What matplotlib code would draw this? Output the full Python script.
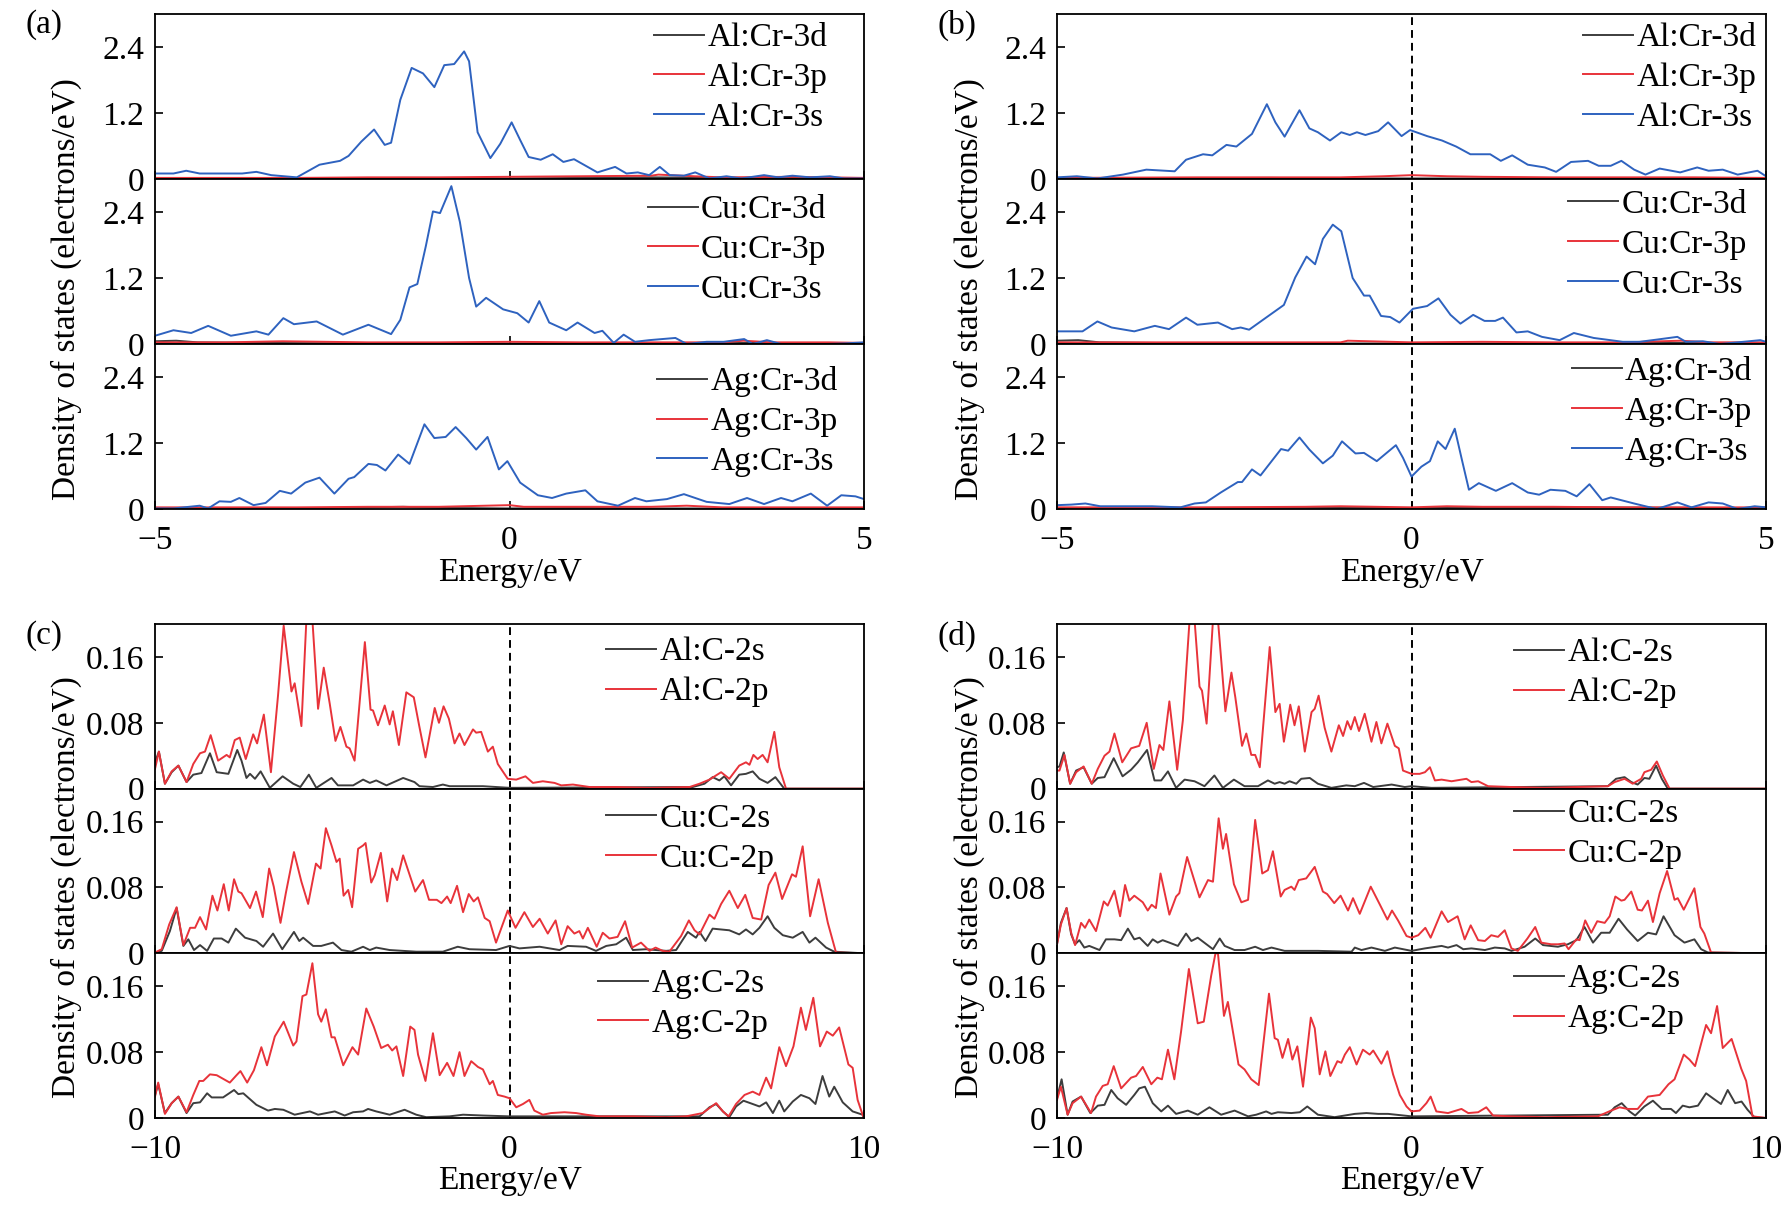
import matplotlib
matplotlib.use("Agg")
import matplotlib.pyplot as plt

plt.rcParams['font.family'] = ['Liberation Serif', 'DejaVu Serif']
plt.rcParams['mathtext.fontset'] = 'stix'

BLACK = '#3d3d3d'
RED = '#e8333a'
BLUE = '#2e62bf'

# ---------------- panel (a) ----------------
a_al_3s_e = [-5, -4.74, -4.56, -4.37, -3.77, -3.57, -3.36, -3.0, -2.68, -2.39, -2.27, -2.09, -1.91, -1.76, -1.67,
             -1.54, -1.38, -1.22, -1.06, -0.92, -0.78, -0.64, -0.57, -0.45, -0.27, -0.13, 0.03, 0.15, 0.27, 0.44,
             0.61, 0.76, 0.91, 1.24, 1.49, 1.65, 1.81, 1.97, 2.12, 2.26, 2.46, 2.62, 2.82, 3.06, 3.27, 3.59, 3.79,
             3.99, 4.24, 4.52, 4.72, 5.0]
a_al_3s = [0.10, 0.10, 0.15, 0.10, 0.10, 0.13, 0.07, 0.03, 0.26, 0.33, 0.42, 0.68, 0.90, 0.62, 0.66,
           1.44, 2.02, 1.92, 1.67, 2.07, 2.09, 2.32, 2.14, 0.85, 0.38, 0.64, 1.03, 0.71, 0.40, 0.35,
           0.45, 0.31, 0.36, 0.12, 0.22, 0.10, 0.12, 0.07, 0.22, 0.07, 0.06, 0.12, 0.01, 0.05, 0.01, 0.07, 0.03,
           0.06, 0.03, 0.05, 0.01, 0.01]
a_al_3d_e = [-5, -3, -1.5, -0.8, 0, 1, 2, 3, 4, 5]
a_al_3d = [0.01, 0.01, 0.02, 0.02, 0.01, 0.02, 0.03, 0.02, 0.02, 0.01]
a_al_3p_e = [-5, -4, -3, -2, -1, 0, 1, 2, 2.1, 2.6, 3, 4, 5]
a_al_3p = [0.02, 0.02, 0.02, 0.03, 0.03, 0.04, 0.05, 0.06, 0.08, 0.05, 0.03, 0.04, 0.02]

a_cu_3s_e = [-5, -4.74, -4.49, -4.25, -3.93, -3.57, -3.40, -3.19, -3.04, -2.72, -2.35, -1.99, -1.67, -1.54, -1.41,
             -1.30, -1.18, -1.08, -0.98, -0.82, -0.70, -0.57, -0.47, -0.33, -0.09, 0.11, 0.27, 0.42, 0.56, 0.80,
             0.96, 1.20, 1.31, 1.47, 1.61, 1.77, 1.97, 2.34, 2.50, 2.78, 3.02, 3.31, 3.43, 3.63, 3.83, 4.16, 4.48,
             4.72, 5.0]
a_cu_3s = [0.15, 0.25, 0.20, 0.33, 0.15, 0.23, 0.17, 0.47, 0.36, 0.41, 0.17, 0.35, 0.18, 0.44, 1.03,
           1.09, 1.78, 2.41, 2.38, 2.87, 2.22, 1.20, 0.68, 0.84, 0.63, 0.56, 0.39, 0.78, 0.39, 0.25,
           0.39, 0.20, 0.24, 0.02, 0.17, 0.04, 0.07, 0.11, 0.00, 0.04, 0.04, 0.09, 0.00, 0.07, 0.00, 0.00, 0.00,
           0.01, 0.03]
a_cu_3d_e = [-5, -4.7, -4.4, -3.5, -2, 0, 2, 3.5, 4, 5]
a_cu_3d = [0.05, 0.06, 0.03, 0.02, 0.01, 0.01, 0.01, 0.02, 0.01, 0.01]
a_cu_3p_e = [-5, -4, -3.2, -2, -1, 0, 1, 2, 3, 3.3, 3.7, 4.5, 5]
a_cu_3p = [0.03, 0.03, 0.05, 0.03, 0.03, 0.04, 0.03, 0.03, 0.03, 0.06, 0.03, 0.03, 0.02]

a_ag_3s_e = [-5, -4.74, -4.37, -4.25, -4.09, -3.93, -3.81, -3.61, -3.44, -3.24, -3.08, -2.88, -2.68, -2.47, -2.27,
             -2.19, -1.99, -1.87, -1.75, -1.57, -1.41, -1.20, -1.06, -0.90, -0.76, -0.61, -0.47, -0.31, -0.15,
             -0.03, 0.15, 0.40, 0.60, 0.80, 1.07, 1.24, 1.53, 1.77, 1.93, 2.22, 2.46, 2.78, 3.10, 3.35, 3.59,
             3.83, 3.99, 4.25, 4.48, 4.68, 4.88, 5.0]
a_ag_3s = [0.01, 0.01, 0.06, 0.01, 0.14, 0.13, 0.20, 0.07, 0.11, 0.33, 0.28, 0.48, 0.57, 0.28, 0.55,
           0.58, 0.82, 0.80, 0.70, 0.99, 0.82, 1.54, 1.29, 1.31, 1.49, 1.29, 1.08, 1.31, 0.72,
           0.87, 0.48, 0.25, 0.20, 0.28, 0.34, 0.14, 0.06, 0.20, 0.14, 0.18, 0.27, 0.13, 0.09, 0.20, 0.09,
           0.20, 0.14, 0.28, 0.06, 0.25, 0.23, 0.18]
a_ag_3d_e = [-5, -3, -1.5, -1, 0, 1, 2, 3, 4, 5]
a_ag_3d = [0.01, 0.01, 0.04, 0.02, 0.01, 0.02, 0.01, 0.01, 0.01, 0.01]
a_ag_3p_e = [-5, -3, -2, -1, 0, 0.2, 1, 2, 2.5, 3, 4, 5]
a_ag_3p = [0.03, 0.03, 0.04, 0.04, 0.07, 0.04, 0.04, 0.04, 0.06, 0.03, 0.03, 0.03]

# ---------------- panel (b) ----------------
b_al_3s_e = [-5, -4.72, -4.43, -4.07, -3.74, -3.34, -3.18, -2.94, -2.81, -2.61, -2.47, -2.25, -2.04, -1.92, -1.79,
             -1.58, -1.44, -1.32, -1.15, -0.99, -0.87, -0.77, -0.65, -0.47, -0.33, -0.14, -0.02, 0.22, 0.43, 0.63,
             0.83, 1.11, 1.26, 1.42, 1.64, 1.88, 2.04, 2.25, 2.49, 2.64, 2.81, 2.96, 3.14, 3.30, 3.50, 3.79, 4.03,
             4.19, 4.39, 4.60, 4.88, 5.0]
b_al_3s = [0.03, 0.05, 0.01, 0.08, 0.17, 0.14, 0.35, 0.45, 0.43, 0.62, 0.59, 0.82, 1.36, 1.03, 0.77,
           1.25, 0.92, 0.85, 0.70, 0.85, 0.80, 0.85, 0.80, 0.87, 1.03, 0.78, 0.89, 0.78, 0.70, 0.59,
           0.45, 0.45, 0.33, 0.43, 0.26, 0.21, 0.13, 0.31, 0.33, 0.24, 0.24, 0.33, 0.17, 0.08, 0.19, 0.12, 0.21,
           0.15, 0.17, 0.08, 0.15, 0.05]
b_al_3d_e = [-5, -2, -1, 0, 1, 2, 3, 5]
b_al_3d = [0.01, 0.02, 0.01, 0.01, 0.01, 0.01, 0.01, 0.01]
b_al_3p_e = [-5, -3, -1, -0.4, 0, 0.5, 1, 2, 3, 4, 5]
b_al_3p = [0.02, 0.03, 0.03, 0.05, 0.07, 0.05, 0.04, 0.03, 0.03, 0.03, 0.02]

b_cu_3s_e = [-5, -4.64, -4.43, -4.23, -3.91, -3.62, -3.42, -3.18, -3.02, -2.73, -2.53, -2.41, -2.29, -2.04, -1.80,
             -1.64, -1.48, -1.36, -1.25, -1.11, -0.99, -0.83, -0.67, -0.59, -0.43, -0.30, -0.17, 0.02, 0.22, 0.38,
             0.55, 0.69, 0.87, 1.03, 1.18, 1.29, 1.48, 1.64, 1.84, 2.09, 2.29, 2.57, 2.98, 3.22, 3.46, 3.75, 3.87,
             4.11, 4.35, 4.68, 4.92, 5.0]
b_cu_3s = [0.23, 0.23, 0.41, 0.30, 0.23, 0.33, 0.27, 0.48, 0.35, 0.39, 0.27, 0.30, 0.26, 0.49, 0.71,
           1.21, 1.59, 1.45, 1.91, 2.17, 2.05, 1.20, 0.88, 0.88, 0.51, 0.49, 0.39, 0.64, 0.69, 0.83,
           0.53, 0.37, 0.53, 0.42, 0.42, 0.48, 0.21, 0.23, 0.13, 0.07, 0.20, 0.11, 0.04, 0.04, 0.08, 0.13, 0.04,
           0.05, 0.00, 0.04, 0.07, 0.04]
b_cu_3d_e = [-5, -4.7, -4.4, -3, -1, 0, 2, 3.5, 4, 5]
b_cu_3d = [0.06, 0.07, 0.03, 0.01, 0.01, 0.01, 0.01, 0.02, 0.02, 0.02]
b_cu_3p_e = [-5, -3, -2, -1, -0.9, 0, 1, 2, 3, 3.8, 4.2, 5]
b_cu_3p = [0.03, 0.03, 0.03, 0.03, 0.06, 0.03, 0.04, 0.03, 0.03, 0.06, 0.03, 0.03]

b_ag_3s_e = [-5, -4.80, -4.60, -4.39, -4.07, -3.66, -3.26, -3.06, -2.90, -2.69, -2.45, -2.39, -2.25, -2.13, -1.84,
             -1.74, -1.58, -1.44, -1.25, -1.11, -0.98, -0.79, -0.67, -0.49, -0.36, -0.22, -0.12, 0.0, 0.14, 0.26,
             0.37, 0.48, 0.61, 0.71, 0.81, 0.95, 1.19, 1.42, 1.64, 1.80, 1.96, 2.17, 2.33, 2.51, 2.69, 2.81, 3.14,
             3.46, 3.75, 3.95, 4.19, 4.39, 4.60, 4.84, 5.0]
b_ag_3s = [0.07, 0.08, 0.10, 0.05, 0.05, 0.05, 0.03, 0.10, 0.12, 0.30, 0.49, 0.49, 0.72, 0.61, 1.09,
           1.06, 1.30, 1.08, 0.83, 0.97, 1.23, 1.01, 1.02, 0.87, 1.01, 1.16, 0.93, 0.59, 0.77, 0.87,
           1.23, 1.09, 1.46, 0.90, 0.35, 0.47, 0.33, 0.47, 0.30, 0.26, 0.35, 0.33, 0.23, 0.45, 0.16, 0.21, 0.10,
           0.00, 0.12, 0.03, 0.12, 0.10, 0.00, 0.05, 0.03]
b_ag_3d_e = [-5, -3, -1.5, 0, 1, 2.5, 4, 5]
b_ag_3d = [0.02, 0.02, 0.02, 0.02, 0.02, 0.03, 0.02, 0.01]
b_ag_3p_e = [-5, -3, -1.5, -1, 0, 0.5, 1, 2, 3, 4, 5]
b_ag_3p = [0.03, 0.03, 0.04, 0.05, 0.03, 0.05, 0.04, 0.04, 0.03, 0.03, 0.03]

# ---------------- panel (c) ----------------
c_al_2p_e = [-10, -9.89, -9.72, -9.53, -9.34, -9.11, -8.92, -8.73, -8.59, -8.43, -8.22, -7.98, -7.89, -7.75, -7.61,
             -7.44, -7.23, -7.12, -6.93, -6.73, -6.53, -6.37, -6.15, -6.06, -5.87, -5.73, -5.56, -5.40, -5.24,
             -5.07, -4.91, -4.77, -4.60, -4.51, -4.37, -4.08, -3.92, -3.85, -3.71, -3.52, -3.38, -3.29, -3.12,
             -2.91, -2.70, -2.55, -2.37, -2.11, -1.99, -1.86, -1.71, -1.55, -1.41, -1.27, -1.03, -0.94, -0.80,
             -0.61, -0.47, -0.33, -0.05, 0.19, 0.45, 0.66, 0.94, 1.27, 1.46, 1.79, 2.26, 3.01, 3.95, 5.08, 5.36,
             5.64, 5.97, 6.20, 6.48, 6.67, 6.77, 6.88, 7.00, 7.14, 7.28, 7.47, 7.61, 7.80, 10]
c_al_2p = [0.024, 0.045, 0.006, 0.021, 0.028, 0.008, 0.030, 0.043, 0.045, 0.065, 0.034, 0.041, 0.038, 0.059, 0.062,
           0.036, 0.066, 0.055, 0.090, 0.020, 0.113, 0.198, 0.118, 0.128, 0.076, 0.205, 0.205, 0.097, 0.147,
           0.103, 0.058, 0.075, 0.051, 0.049, 0.034, 0.178, 0.096, 0.095, 0.077, 0.101, 0.078, 0.094, 0.053,
           0.117, 0.111, 0.077, 0.038, 0.098, 0.080, 0.100, 0.085, 0.055, 0.067, 0.053, 0.072, 0.068, 0.069,
           0.045, 0.051, 0.030, 0.012, 0.011, 0.015, 0.007, 0.009, 0.007, 0.004, 0.005, 0.002, 0.002, 0.001, 0.002, 0.006,
           0.011, 0.020, 0.012, 0.028, 0.032, 0.029, 0.041, 0.036, 0.041, 0.032, 0.069, 0.026, 0.0, 0.0]
c_al_2s_e = [-10, -9.89, -9.72, -9.53, -9.34, -9.11, -8.92, -8.69, -8.45, -8.26, -7.93, -7.68, -7.56, -7.42, -7.32,
             -7.18, -7.02, -6.76, -6.40, -6.10, -5.90, -5.66, -5.45, -5.02, -4.84, -4.41, -4.13, -3.94, -3.76,
             -3.47, -3.00, -2.68, -2.54, -2.16, -1.88, -1.69, -0.75, 0, 5.17, 5.50, 5.73, 5.92, 6.06, 6.25, 6.48,
             6.67, 6.86, 7.05, 7.28, 7.50, 7.75, 10]
c_al_2s = [0.032, 0.045, 0.006, 0.020, 0.028, 0.008, 0.017, 0.019, 0.043, 0.020, 0.018, 0.047, 0.034, 0.013, 0.018,
           0.012, 0.021, 0.001, 0.015, 0.006, 0.002, 0.017, 0.001, 0.013, 0.004, 0.004, 0.011, 0.007, 0.010,
           0.004, 0.013, 0.008, 0.003, 0.002, 0.005, 0.003, 0.003, 0.001, 0.002, 0.006, 0.014, 0.010, 0.015, 0.004, 0.017,
           0.018, 0.021, 0.012, 0.007, 0.014, 0.0, 0.0]

c_cu_2p_e = [-10, -9.81, -9.60, -9.39, -9.20, -9.01, -8.87, -8.73, -8.56, -8.38, -8.24, -8.06, -7.92, -7.77, -7.65,
             -7.56, -7.32, -7.15, -6.96, -6.78, -6.65, -6.46, -6.31, -6.08, -5.87, -5.68, -5.46, -5.33, -5.18,
             -5.02, -4.88, -4.79, -4.68, -4.55, -4.44, -4.27, -4.13, -4.06, -3.90, -3.80, -3.63, -3.45, -3.31,
             -3.17, -3.00, -2.66, -2.44, -2.27, -2.05, -1.92, -1.76, -1.66, -1.48, -1.31, -1.15, -1.01, -0.89,
             -0.70, -0.56, -0.38, -0.05, 0.17, 0.42, 0.66, 0.85, 1.08, 1.30, 1.46, 1.64, 1.83, 1.97, 2.07, 2.21,
             2.46, 2.63, 2.82, 3.05, 3.26, 3.46, 3.71, 3.95, 4.12, 4.32, 4.51, 4.84, 5.06, 5.22, 5.36, 5.64, 5.78,
             5.97, 6.20, 6.44, 6.65, 6.86, 7.10, 7.31, 7.50, 7.69, 7.97, 8.08, 8.27, 8.48, 8.72, 8.98, 9.21, 10]
c_cu_2p = [0.001, 0.005, 0.035, 0.056, 0.010, 0.031, 0.031, 0.044, 0.029, 0.070, 0.052, 0.084, 0.052, 0.090, 0.075,
           0.073, 0.055, 0.075, 0.044, 0.103, 0.081, 0.037, 0.073, 0.123, 0.087, 0.060, 0.109, 0.103, 0.152,
           0.131, 0.111, 0.115, 0.070, 0.077, 0.056, 0.127, 0.131, 0.134, 0.086, 0.095, 0.122, 0.063, 0.103,
           0.089, 0.119, 0.075, 0.089, 0.065, 0.065, 0.061, 0.069, 0.061, 0.082, 0.050, 0.072, 0.063, 0.068,
           0.043, 0.039, 0.013, 0.052, 0.031, 0.050, 0.032, 0.042, 0.024, 0.040, 0.011, 0.033, 0.024, 0.027, 0.018, 0.031,
           0.008, 0.025, 0.018, 0.020, 0.039, 0.007, 0.013, 0.003, 0.007, 0.003, 0.002, 0.021, 0.040, 0.028, 0.023, 0.047, 0.042,
           0.060, 0.076, 0.055, 0.071, 0.043, 0.041, 0.083, 0.098, 0.066, 0.096, 0.093, 0.130, 0.045, 0.090, 0.037, 0.001, 0.0]
c_cu_2s_e = [-10, -9.81, -9.58, -9.39, -9.20, -9.06, -8.90, -8.73, -8.53, -8.34, -8.12, -7.93, -7.72, -7.46, -7.14,
             -6.95, -6.67, -6.41, -6.08, -5.93, -5.82, -5.54, -5.31, -4.98, -4.74, -4.46, -4.13, -3.94, -3.76,
             -3.38, -2.63, -1.88, -1.46, -1.13, -0.38, 0, 0.28, 0.85, 1.41, 1.64, 2.16, 2.44, 2.73, 3.01, 3.29,
             3.48, 3.85, 4.42, 4.70, 5.03, 5.26, 5.36, 5.53, 5.73, 6.20, 6.48, 6.67, 6.86, 7.05, 7.28, 7.47, 7.71,
             7.99, 8.27, 8.46, 8.63, 8.93, 9.16, 10]
c_cu_2s = [0.001, 0.003, 0.027, 0.055, 0.009, 0.017, 0.004, 0.010, 0.003, 0.018, 0.018, 0.013, 0.030, 0.019, 0.015,
           0.008, 0.024, 0.005, 0.026, 0.015, 0.019, 0.009, 0.009, 0.013, 0.004, 0.002, 0.008, 0.004, 0.007,
           0.004, 0.002, 0.002, 0.008, 0.005, 0.004, 0.009, 0.006, 0.008, 0.004, 0.009, 0.008, 0.003, 0.009, 0.011, 0.019,
           0.004, 0.005, 0.003, 0.004, 0.026, 0.019, 0.026, 0.015, 0.030, 0.028, 0.023, 0.029, 0.023, 0.031, 0.045, 0.031, 0.022,
           0.019, 0.026, 0.013, 0.019, 0.007, 0.002, 0.0]

c_ag_2p_e = [-10, -9.91, -9.72, -9.53, -9.34, -9.11, -8.92, -8.75, -8.64, -8.45, -8.26, -7.89, -7.70, -7.59, -7.40,
             -7.21, -7.00, -6.84, -6.62, -6.37, -6.10, -6.01, -5.84, -5.73, -5.56, -5.40, -5.31, -5.18, -5.02,
             -4.93, -4.69, -4.43, -4.27, -4.04, -3.83, -3.62, -3.43, -3.31, -3.19, -3.00, -2.80, -2.68, -2.58,
             -2.37, -2.16, -1.97, -1.76, -1.58, -1.41, -1.27, -1.08, -0.89, -0.75, -0.56, -0.47, -0.33, -0.14, 0,
             0.19, 0.38, 0.56, 0.70, 0.94, 1.17, 1.55, 1.88, 2.16, 2.54, 3.48, 4.42, 4.98, 5.45, 5.83, 6.02, 6.18,
             6.39, 6.63, 6.86, 7.05, 7.24, 7.38, 7.61, 7.80, 8.01, 8.22, 8.36, 8.57, 8.76, 8.95, 9.12, 9.30, 9.56,
             9.68, 9.82, 9.96, 10]
c_ag_2p = [0.026, 0.043, 0.005, 0.018, 0.026, 0.007, 0.028, 0.045, 0.045, 0.053, 0.052, 0.043, 0.052, 0.057, 0.043,
           0.058, 0.086, 0.064, 0.099, 0.117, 0.088, 0.093, 0.148, 0.150, 0.188, 0.126, 0.117, 0.132, 0.098,
           0.098, 0.064, 0.086, 0.077, 0.133, 0.111, 0.085, 0.089, 0.082, 0.087, 0.051, 0.111, 0.107, 0.077,
           0.045, 0.103, 0.052, 0.067, 0.051, 0.080, 0.051, 0.069, 0.062, 0.059, 0.041, 0.045, 0.028, 0.026, 0.024,
           0.013, 0.017, 0.022, 0.009, 0.004, 0.006, 0.007, 0.006, 0.004, 0.002, 0.002, 0.001, 0.002, 0.006, 0.018, 0.008, 0.002,
           0.017, 0.028, 0.032, 0.028, 0.049, 0.036, 0.086, 0.063, 0.087, 0.134, 0.107, 0.146, 0.087, 0.105, 0.100, 0.110, 0.065,
           0.061, 0.022, 0.004, 0.0]
c_ag_2s_e = [-10, -9.91, -9.72, -9.53, -9.34, -9.11, -8.92, -8.73, -8.53, -8.40, -8.08, -7.77, -7.65, -7.51, -7.14,
             -6.81, -6.62, -6.38, -6.06, -5.63, -5.40, -4.93, -4.65, -4.41, -4.13, -3.99, -3.76, -3.38, -2.96,
             -2.63, -2.35, -1.69, -1.31, -0.75, 0, 5.36, 5.64, 5.83, 6.02, 6.20, 6.39, 6.60, 6.86, 7.05, 7.24,
             7.43, 7.61, 7.75, 7.99, 8.22, 8.46, 8.63, 8.83, 9.02, 9.16, 9.40, 9.68, 9.96, 10]
c_ag_2s = [0.028, 0.041, 0.006, 0.018, 0.026, 0.006, 0.018, 0.019, 0.030, 0.025, 0.025, 0.034, 0.029, 0.030, 0.016,
           0.009, 0.011, 0.010, 0.004, 0.008, 0.004, 0.008, 0.003, 0.007, 0.008, 0.011, 0.008, 0.004, 0.010,
           0.004, 0.001, 0.002, 0.004, 0.003, 0.002, 0.002, 0.013, 0.017, 0.008, 0.001, 0.014, 0.021, 0.017, 0.014, 0.019,
           0.006, 0.021, 0.008, 0.020, 0.028, 0.024, 0.017, 0.051, 0.026, 0.038, 0.019, 0.008, 0.004, 0.0]

# ---------------- panel (d) ----------------
d_al_2p_e = [-10, -9.93, -9.79, -9.63, -9.46, -9.25, -9.02, -8.85, -8.66, -8.52, -8.38, -8.16, -7.91, -7.68, -7.47,
             -7.27, -7.11, -7.00, -6.83, -6.61, -6.45, -6.26, -6.12, -5.98, -5.91, -5.78, -5.60, -5.46, -5.25,
             -5.08, -4.97, -4.78, -4.66, -4.52, -4.41, -4.28, -4.00, -3.84, -3.72, -3.60, -3.42, -3.30, -3.18,
             -3.01, -2.82, -2.73, -2.62, -2.45, -2.26, -2.05, -1.93, -1.81, -1.71, -1.60, -1.48, -1.32, -1.13,
             -0.99, -0.85, -0.68, -0.47, -0.36, -0.24, 0, 0.23, 0.38, 0.52, 0.66, 0.85, 1.13, 1.55, 1.69, 1.88,
             2.16, 2.82, 3.76, 5.54, 5.73, 6.01, 6.24, 6.48, 6.57, 6.76, 6.92, 7.09, 7.28, 10]
d_al_2p = [0.022, 0.022, 0.041, 0.006, 0.020, 0.027, 0.006, 0.024, 0.040, 0.045, 0.067, 0.032, 0.049, 0.052, 0.080,
           0.024, 0.053, 0.047, 0.106, 0.023, 0.083, 0.205, 0.205, 0.124, 0.119, 0.079, 0.205, 0.205, 0.094,
           0.141, 0.111, 0.052, 0.067, 0.041, 0.041, 0.026, 0.172, 0.093, 0.103, 0.057, 0.102, 0.077, 0.100,
           0.045, 0.093, 0.097, 0.113, 0.074, 0.045, 0.077, 0.064, 0.082, 0.072, 0.087, 0.070, 0.091, 0.057,
           0.081, 0.055, 0.079, 0.052, 0.049, 0.022, 0.018, 0.018, 0.020, 0.026, 0.010, 0.011, 0.009, 0.012, 0.008, 0.009,
           0.003, 0.002, 0.001, 0.003, 0.008, 0.012, 0.006, 0.012, 0.020, 0.023, 0.033, 0.016, 0.0, 0.0]
d_al_2s_e = [-10, -9.93, -9.81, -9.63, -9.46, -9.25, -9.02, -8.85, -8.66, -8.40, -8.15, -7.91, -7.72, -7.46, -7.25,
             -7.06, -6.87, -6.64, -6.40, -6.12, -5.84, -5.56, -5.32, -5.01, -4.71, -4.33, -4.05, -3.86, -3.72,
             -3.58, -3.44, -3.25, -3.11, -2.87, -2.64, -2.26, -1.84, -1.60, -1.34, -1.08, -0.56, -0.19, 0, 0.56,
             5.54, 5.77, 6.01, 6.20, 6.38, 6.57, 6.71, 6.90, 7.06, 7.23, 10]
d_al_2s = [0.026, 0.027, 0.044, 0.006, 0.022, 0.026, 0.006, 0.013, 0.014, 0.037, 0.015, 0.023, 0.032, 0.047, 0.010,
           0.010, 0.021, 0.001, 0.011, 0.009, 0.003, 0.016, 0.001, 0.011, 0.003, 0.003, 0.010, 0.006, 0.008,
           0.006, 0.009, 0.006, 0.012, 0.013, 0.006, 0.001, 0.004, 0.003, 0.007, 0.002, 0.005, 0.002, 0.003, 0.001,
           0.003, 0.012, 0.014, 0.008, 0.005, 0.013, 0.012, 0.028, 0.012, 0.0, 0.0]

d_cu_2p_e = [-10, -9.89, -9.73, -9.60, -9.49, -9.32, -9.21, -9.09, -8.90, -8.68, -8.57, -8.38, -8.22, -8.08, -7.96,
             -7.82, -7.58, -7.44, -7.33, -7.21, -7.08, -6.83, -6.64, -6.55, -6.33, -5.98, -5.74, -5.60, -5.44,
             -5.32, -5.23, -5.01, -4.80, -4.61, -4.41, -4.21, -4.05, -3.91, -3.69, -3.58, -3.39, -3.30, -3.18,
             -2.97, -2.73, -2.50, -2.38, -2.18, -2.00, -1.79, -1.65, -1.46, -1.15, -0.89, -0.68, -0.55, -0.38,
             -0.14, 0, 0.19, 0.39, 0.54, 0.85, 1.03, 1.30, 1.50, 1.67, 1.88, 2.07, 2.25, 2.44, 2.63, 2.82, 3.00,
             3.27, 3.49, 3.66, 3.94, 4.13, 4.32, 4.43, 4.65, 4.74, 4.90, 5.07, 5.24, 5.45, 5.59, 5.75, 5.92, 6.01,
             6.20, 6.38, 6.50, 6.67, 6.81, 7.00, 7.21, 7.42, 7.51, 7.68, 7.98, 8.15, 8.26, 8.45, 10]
d_cu_2p = [0.011, 0.035, 0.055, 0.025, 0.010, 0.037, 0.031, 0.041, 0.027, 0.063, 0.058, 0.076, 0.045, 0.083, 0.064,
           0.070, 0.062, 0.052, 0.059, 0.055, 0.097, 0.047, 0.069, 0.073, 0.117, 0.068, 0.089, 0.087, 0.164,
           0.127, 0.145, 0.084, 0.062, 0.065, 0.162, 0.097, 0.101, 0.124, 0.069, 0.077, 0.081, 0.077, 0.089,
           0.091, 0.105, 0.075, 0.072, 0.061, 0.070, 0.052, 0.067, 0.048, 0.081, 0.059, 0.041, 0.052, 0.040,
           0.021, 0.019, 0.022, 0.031, 0.019, 0.051, 0.038, 0.045, 0.017, 0.034, 0.016, 0.015, 0.022, 0.020, 0.028, 0.006, 0.003,
           0.018, 0.032, 0.013, 0.011, 0.011, 0.012, 0.005, 0.017, 0.016, 0.040, 0.025, 0.039, 0.037, 0.045, 0.069, 0.064, 0.065,
           0.075, 0.053, 0.052, 0.064, 0.038, 0.073, 0.100, 0.065, 0.067, 0.053, 0.079, 0.032, 0.024, 0.001, 0.0]
d_cu_2s_e = [-10, -9.89, -9.73, -9.60, -9.49, -9.37, -9.23, -9.09, -8.80, -8.62, -8.38, -8.19, -8.00, -7.82, -7.67,
             -7.44, -7.30, -7.16, -7.02, -6.83, -6.59, -6.36, -6.21, -6.03, -5.60, -5.41, -5.27, -4.99, -4.71,
             -4.41, -4.19, -3.95, -3.58, -2.64, -1.69, -1.60, -1.41, -1.13, -0.75, -0.47, 0, 0.38, 0.85, 1.03,
             1.27, 1.46, 1.69, 2.07, 2.35, 2.63, 2.82, 3.19, 3.49, 3.71, 4.13, 4.41, 4.65, 4.88, 5.12, 5.35, 5.59,
             5.84, 6.08, 6.38, 6.67, 6.90, 7.11, 7.42, 7.70, 7.98, 8.17, 8.36, 10]
d_cu_2s = [0.011, 0.037, 0.055, 0.023, 0.011, 0.016, 0.007, 0.009, 0.004, 0.017, 0.017, 0.016, 0.030, 0.017, 0.019,
           0.009, 0.017, 0.013, 0.016, 0.013, 0.009, 0.024, 0.015, 0.019, 0.005, 0.018, 0.009, 0.004, 0.004,
           0.008, 0.004, 0.007, 0.003, 0.003, 0.002, 0.007, 0.004, 0.007, 0.003, 0.007, 0.003, 0.006, 0.009, 0.007,
           0.010, 0.005, 0.006, 0.004, 0.007, 0.006, 0.003, 0.008, 0.018, 0.010, 0.008, 0.011, 0.016, 0.032, 0.013, 0.025, 0.025,
           0.042, 0.029, 0.015, 0.025, 0.023, 0.045, 0.022, 0.013, 0.017, 0.005, 0.001, 0.0]

d_ag_2p_e = [-10, -9.89, -9.70, -9.56, -9.32, -9.04, -8.90, -8.71, -8.57, -8.40, -8.19, -7.91, -7.77, -7.58, -7.34,
             -7.17, -7.04, -6.87, -6.69, -6.50, -6.28, -6.03, -5.86, -5.65, -5.53, -5.46, -5.29, -5.18, -4.88,
             -4.71, -4.52, -4.31, -4.02, -3.86, -3.77, -3.64, -3.48, -3.36, -3.22, -3.06, -2.84, -2.73, -2.59,
             -2.43, -2.29, -2.09, -1.98, -1.88, -1.74, -1.55, -1.37, -1.18, -1.08, -0.85, -0.68, -0.52, -0.33,
             -0.14, 0, 0.23, 0.42, 0.54, 0.70, 1.03, 1.41, 1.60, 1.88, 2.11, 2.30, 2.82, 3.76, 5.26, 5.63, 5.87,
             6.10, 6.38, 6.67, 7.00, 7.25, 7.42, 7.68, 7.84, 8.00, 8.31, 8.45, 8.62, 8.78, 9.03, 9.30, 9.44, 9.62, 10]
d_ag_2p = [0.022, 0.038, 0.004, 0.018, 0.026, 0.006, 0.026, 0.039, 0.041, 0.063, 0.036, 0.049, 0.051, 0.062, 0.041,
           0.049, 0.047, 0.083, 0.047, 0.105, 0.181, 0.115, 0.117, 0.173, 0.200, 0.200, 0.124, 0.141, 0.065,
           0.059, 0.047, 0.040, 0.151, 0.097, 0.095, 0.073, 0.096, 0.071, 0.087, 0.038, 0.122, 0.109, 0.053,
           0.081, 0.051, 0.069, 0.067, 0.077, 0.086, 0.065, 0.083, 0.077, 0.082, 0.066, 0.081, 0.053, 0.028,
           0.014, 0.008, 0.009, 0.018, 0.026, 0.008, 0.006, 0.011, 0.006, 0.007, 0.013, 0.003, 0.002, 0.001, 0.002, 0.009, 0.013,
           0.011, 0.011, 0.026, 0.028, 0.041, 0.047, 0.077, 0.071, 0.063, 0.113, 0.103, 0.136, 0.085, 0.096, 0.060, 0.045, 0.002, 0.0]
d_ag_2s_e = [-10, -9.87, -9.70, -9.56, -9.32, -9.06, -8.85, -8.66, -8.47, -8.29, -8.05, -7.82, -7.68, -7.52, -7.30,
             -7.06, -6.87, -6.64, -6.31, -6.03, -5.70, -5.37, -4.99, -4.61, -4.38, -4.10, -3.95, -3.77, -3.39,
             -3.15, -2.94, -2.64, -2.17, -1.60, -1.27, -0.94, -0.66, 0, 5.54, 5.73, 5.93, 6.15, 6.31, 6.57, 6.81,
             7.06, 7.32, 7.46, 7.65, 7.84, 8.08, 8.31, 8.50, 8.73, 8.92, 9.13, 9.31, 9.48, 9.67, 10]
d_ag_2s = [0.024, 0.047, 0.004, 0.020, 0.026, 0.006, 0.015, 0.016, 0.034, 0.024, 0.016, 0.028, 0.036, 0.038, 0.018,
           0.008, 0.015, 0.005, 0.009, 0.004, 0.013, 0.004, 0.009, 0.002, 0.004, 0.008, 0.005, 0.007, 0.006,
           0.007, 0.014, 0.004, 0.001, 0.005, 0.006, 0.005, 0.005, 0.002, 0.004, 0.013, 0.018, 0.008, 0.003, 0.014, 0.021,
           0.011, 0.011, 0.006, 0.015, 0.013, 0.015, 0.030, 0.024, 0.017, 0.034, 0.018, 0.020, 0.010, 0.001, 0.0]

W, H = 1792, 1207
FS = 24


def px(x0, y0, x1, y1):
    # pixel box -> figure fraction rect
    return [x0 / W, 1 - y1 / H, (x1 - x0) / W, (y1 - y0) / H]


def draw_panel(rect, rows, xlim, xticks, yticks, ylabels, ymax, dashed, leg_pos):
    left, bottom, width, height = rect
    sub_h = height / 3
    axes = []
    for i, curves in enumerate(rows):
        ax = fig.add_axes([left, bottom + (2 - i) * sub_h, width, sub_h])
        for e, y, label, color in curves:
            ax.plot(e, y, color=color, lw=1.4, label=label)
        if dashed:
            ax.axvline(0, color='black', lw=1.4, ls=(0, (4, 2.6)), zorder=0)
        ax.set_xlim(*xlim)
        ax.set_ylim(0, ymax)
        ax.set_xticks(xticks)
        ax.set_yticks(yticks)
        ax.set_yticklabels(ylabels)
        ax.tick_params(direction='in', length=6, width=1.2, labelsize=FS, pad=8)
        ax.tick_params(axis='x', pad=12, labelbottom=(i == 2))
        for s in ax.spines.values():
            s.set_linewidth(1.3)
        lx, ly = leg_pos[i]
        ax.legend(loc='upper left', bbox_to_anchor=(lx, ly), frameon=False, fontsize=FS,
                  handlelength=1.5, handletextpad=0.1, labelspacing=0.28, borderpad=0, borderaxespad=0)
        axes.append(ax)
    return axes


fig = plt.figure(figsize=(W / 100, H / 100), dpi=100)

rows_a = [
    [(a_al_3d_e, a_al_3d, 'Al:Cr-3d', BLACK), (a_al_3p_e, a_al_3p, 'Al:Cr-3p', RED), (a_al_3s_e, a_al_3s, 'Al:Cr-3s', BLUE)],
    [(a_cu_3d_e, a_cu_3d, 'Cu:Cr-3d', BLACK), (a_cu_3p_e, a_cu_3p, 'Cu:Cr-3p', RED), (a_cu_3s_e, a_cu_3s, 'Cu:Cr-3s', BLUE)],
    [(a_ag_3d_e, a_ag_3d, 'Ag:Cr-3d', BLACK), (a_ag_3p_e, a_ag_3p, 'Ag:Cr-3p', RED), (a_ag_3s_e, a_ag_3s, 'Ag:Cr-3s', BLUE)],
]
rows_b = [
    [(b_al_3d_e, b_al_3d, 'Al:Cr-3d', BLACK), (b_al_3p_e, b_al_3p, 'Al:Cr-3p', RED), (b_al_3s_e, b_al_3s, 'Al:Cr-3s', BLUE)],
    [(b_cu_3d_e, b_cu_3d, 'Cu:Cr-3d', BLACK), (b_cu_3p_e, b_cu_3p, 'Cu:Cr-3p', RED), (b_cu_3s_e, b_cu_3s, 'Cu:Cr-3s', BLUE)],
    [(b_ag_3d_e, b_ag_3d, 'Ag:Cr-3d', BLACK), (b_ag_3p_e, b_ag_3p, 'Ag:Cr-3p', RED), (b_ag_3s_e, b_ag_3s, 'Ag:Cr-3s', BLUE)],
]
rows_c = [
    [(c_al_2s_e, c_al_2s, 'Al:C-2s', BLACK), (c_al_2p_e, c_al_2p, 'Al:C-2p', RED)],
    [(c_cu_2s_e, c_cu_2s, 'Cu:C-2s', BLACK), (c_cu_2p_e, c_cu_2p, 'Cu:C-2p', RED)],
    [(c_ag_2s_e, c_ag_2s, 'Ag:C-2s', BLACK), (c_ag_2p_e, c_ag_2p, 'Ag:C-2p', RED)],
]
rows_d = [
    [(d_al_2s_e, d_al_2s, 'Al:C-2s', BLACK), (d_al_2p_e, d_al_2p, 'Al:C-2p', RED)],
    [(d_cu_2s_e, d_cu_2s, 'Cu:C-2s', BLACK), (d_cu_2p_e, d_cu_2p, 'Cu:C-2p', RED)],
    [(d_ag_2s_e, d_ag_2s, 'Ag:C-2s', BLACK), (d_ag_2p_e, d_ag_2p, 'Ag:C-2p', RED)],
]

cr_ticks, cr_labels = [0, 1.2, 2.4], ['0', '1.2', '2.4']
c_ticks, c_labels = [0, 0.08, 0.16], ['0', '0.08', '0.16']

draw_panel(px(155, 14, 864, 509), rows_a, (-5, 5), [-5, 0, 5], cr_ticks, cr_labels, 3.0, False,
           [(0.704, 0.947), (0.695, 0.905), (0.708, 0.864)])
draw_panel(px(1057, 14, 1766, 509), rows_b, (-5, 5), [-5, 0, 5], cr_ticks, cr_labels, 3.0, True,
           [(0.742, 0.947), (0.721, 0.936), (0.726, 0.927)])
draw_panel(px(155, 624, 864, 1118), rows_c, (-10, 10), [-10, 0, 10], c_ticks, c_labels, 0.2, True,
           [(0.636, 0.922), (0.636, 0.910), (0.625, 0.906)])
draw_panel(px(1057, 624, 1766, 1118), rows_d, (-10, 10), [-10, 0, 10], c_ticks, c_labels, 0.2, True,
           [(0.645, 0.915), (0.645, 0.939), (0.645, 0.936)])

ylab = 'Density of states (electrons/eV)'
for x0, yc in [(66, 289), (969, 289), (66, 887), (969, 887)]:
    fig.text(x0 / W, 1 - yc / H, ylab, rotation=90, ha='center', va='center', fontsize=FS)
for xc, yc in [(509.5, 573), (1411.5, 573), (509.5, 1181), (1411.5, 1181)]:
    fig.text(xc / W, 1 - yc / H, 'Energy/eV', ha='center', va='center', fontsize=FS)
for lab, x0, yc in [('(a)', 25, 25), ('(b)', 937, 25), ('(c)', 25, 636), ('(d)', 937, 636)]:
    fig.text(x0 / W, 1 - yc / H, lab, ha='left', va='center', fontsize=FS)

fig.savefig('out.png', dpi=100)
